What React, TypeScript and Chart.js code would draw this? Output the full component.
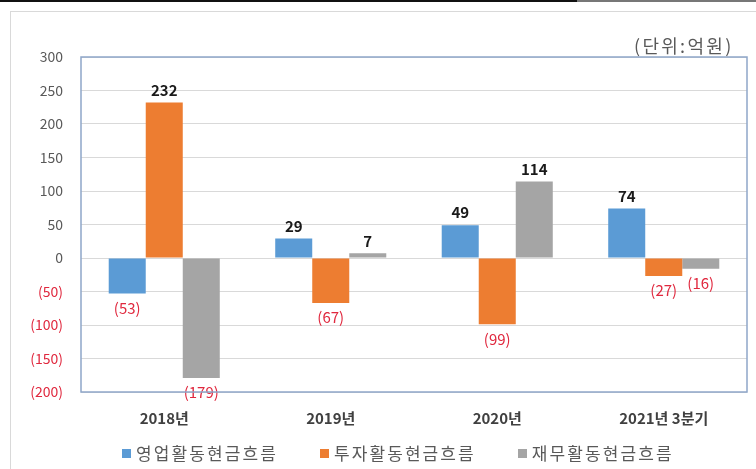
import React, { useEffect, useRef } from "react";
import { Chart, registerables } from "chart.js";

Chart.register(...registerables);

const categories = ["2018년", "2019년", "2020년", "2021년 3분기"];
const seriesNames = ["영업활동현금흐름", "투자활동현금흐름", "재무활동현금흐름"];
const operating = [-53, 29, 49, 74];
const investing = [232, -67, -99, -27];
const financing = [-179, 7, 114, -16];
const seriesColors = ["#5B9BD5", "#ED7D31", "#A5A5A5"];
const yMin = -200;
const yMax = 300;
const yStep = 50;
const unitLabel = "(단위:억원)";

const FONT = "'Noto Sans CJK KR', 'Noto Sans', sans-serif";
const RED = "#E0283E";

const fmt = (v: number) => (v < 0 ? `(${-v})` : `${v}`);

export default function App() {
  const ref = useRef<HTMLCanvasElement | null>(null);

  useEffect(() => {
    if (!ref.current) return;
    const borderPlugin = {
      id: "plotBorder",
      afterDraw(chart: any) {
        const { ctx, chartArea } = chart;
        ctx.save();
        ctx.strokeStyle = "#8FA6C9";
        ctx.lineWidth = 1.5;
        ctx.strokeRect(chartArea.left, chartArea.top, chartArea.right - chartArea.left, chartArea.bottom - chartArea.top);
        ctx.restore();
      },
    };
    const labelPlugin = {
      id: "valueLabels",
      afterDatasetsDraw(chart: any) {
        const { ctx } = chart;
        ctx.save();
        ctx.textAlign = "center";
        chart.data.datasets.forEach((ds: any, di: number) => {
          const meta = chart.getDatasetMeta(di);
          meta.data.forEach((el: any, i: number) => {
            const v = ds.data[i] as number;
            if (v >= 0) {
              ctx.font = `600 15px ${FONT}`;
              ctx.fillStyle = "#1a1a1a";
              ctx.textBaseline = "bottom";
              ctx.fillText(fmt(v), el.x, el.y - 5);
            } else {
              ctx.font = `400 15px ${FONT}`;
              ctx.fillStyle = RED;
              ctx.textBaseline = "top";
              ctx.fillText(fmt(v), el.x, el.y + 7);
            }
          });
        });
        ctx.restore();
      },
    };
    const chart = new Chart(ref.current, {
      type: "bar",
      data: {
        labels: categories,
        datasets: [operating, investing, financing].map((d, i) => ({
          label: seriesNames[i],
          data: d,
          backgroundColor: seriesColors[i],
          borderWidth: 0,
          categoryPercentage: 0.667,
          barPercentage: 1.0,
        })),
      },
      options: {
        animation: false,
        responsive: false,
        maintainAspectRatio: false,
        layout: { padding: { top: 57, right: 9, left: 0, bottom: 0 } },
        plugins: {
          legend: { display: false },
          tooltip: { enabled: false },
        },
        scales: {
          x: {
            grid: { display: false, drawTicks: false },
            border: { display: false },
            ticks: {
              color: "#404040",
              font: { family: FONT, size: 15, weight: "bold" },
              padding: 17,
            },
            afterFit(scale: any) {
              scale.height = 77;
            },
          },
          y: {
            min: yMin,
            max: yMax,
            grid: { color: "#D9D9D9", drawTicks: false, lineWidth: 1 },
            border: { display: false },
            ticks: {
              stepSize: yStep,
              padding: 18,
              font: { family: FONT, size: 14 },
              color: (c: any) => (c.tick && c.tick.value < 0 ? RED : "#595959"),
              callback: (v: any) => fmt(Number(v)),
            },
            afterFit(scale: any) {
              scale.width = 81;
            },
          },
        },
      },
      plugins: [borderPlugin, labelPlugin],
    } as any);
    return () => chart.destroy();
  }, []);

  return (
    <div style={{ position: "fixed", left: 0, top: 0, width: 756, height: 469, background: "#fff", overflow: "hidden", fontFamily: FONT }}>
      <div style={{ position: "absolute", left: 0, top: 0, width: 577, height: 2, background: "#111" }} />
      <div style={{ position: "absolute", left: 577, top: 0, width: 179, height: 2, background: "#777" }} />
      <div style={{ position: "absolute", left: 10, top: 11, width: 746, height: 458, borderLeft: "1px solid #D9D9D9", borderTop: "1px solid #D9D9D9" }} />
      <canvas ref={ref} width={756} height={469} style={{ position: "absolute", left: 0, top: 0, width: 756, height: 469 }} />
      <div style={{ position: "absolute", left: 634, top: 32, fontSize: 18, color: "#595959", lineHeight: "26px", whiteSpace: "nowrap", letterSpacing: 2.3 }}>{unitLabel}</div>
      <div style={{ position: "absolute", left: 122, top: 441, display: "flex", alignItems: "center", whiteSpace: "nowrap" }}>
        {seriesNames.map((n, i) => (
          <div key={n} style={{ display: "flex", alignItems: "center", marginRight: i < seriesNames.length - 1 ? 42 : 0 }}>
            <span style={{ display: "inline-block", width: 9, height: 9, background: seriesColors[i], marginRight: 5 }} />
            <span style={{ fontSize: 17, color: "#595959", letterSpacing: 2.1, lineHeight: "24px" }}>{n}</span>
          </div>
        ))}
      </div>
    </div>
  );
}
